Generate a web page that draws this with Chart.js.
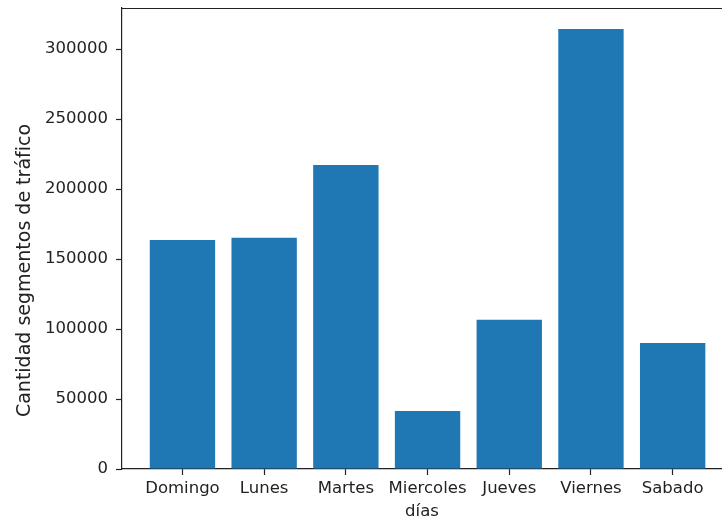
<!DOCTYPE html>
<html lang="es">
<head>
    <meta charset="UTF-8">
    <title>Cantidad segmentos de tráfico por día</title>
    <script src="https://cdn.jsdelivr.net/npm/chart.js"></script>
    <style>
        body { margin: 0; background: #fff; overflow: hidden; }
        #wrap { width: 722px; height: 523px; position: relative; }
    </style>
</head>
<body>
    <div id="wrap"><canvas id="myChart"></canvas></div>

    <script>
        // datos
        const dias = ['Domingo', 'Lunes', 'Martes', 'Miercoles', 'Jueves', 'Viernes', 'Sabado'];
        const segmentos = [163600, 165200, 217100, 41400, 106600, 314300, 90000];
        const yTicks = [0, 50000, 100000, 150000, 200000, 250000, 300000];
        const xTitle = 'días';
        const yTitle = 'Cantidad segmentos de tráfico';

        const textColor = '#222';
        const fontFamily = '"DejaVu Sans", sans-serif';

        // linea superior del marco + etiqueta del eje y (un poco desplazada, como en el original)
        const framePlugin = {
            id: 'frame',
            afterDraw(chart) {
                const { ctx, chartArea } = chart;
                ctx.save();
                ctx.strokeStyle = textColor;
                ctx.lineWidth = 1.2;
                ctx.beginPath();
                ctx.moveTo(chartArea.left, chartArea.top + 0.5);
                ctx.lineTo(chartArea.right, chartArea.top + 0.5);
                ctx.stroke();

                ctx.translate(25, (chartArea.top + chartArea.bottom) / 2 + 32);
                ctx.rotate(-Math.PI / 2);
                ctx.fillStyle = textColor;
                ctx.font = '19px ' + fontFamily;
                ctx.textAlign = 'center';
                ctx.textBaseline = 'middle';
                ctx.fillText(yTitle, 0, 0);
                ctx.restore();
            }
        };

        const ctx = document.getElementById('myChart').getContext('2d');
        new Chart(ctx, {
            type: 'bar',
            data: {
                datasets: [{
                    data: dias.map((d, i) => ({ x: i, y: segmentos[i] })),
                    backgroundColor: '#1f77b4',
                    borderWidth: 0,
                    categoryPercentage: 0.8,
                    barPercentage: 1.0
                }]
            },
            options: {
                responsive: true,
                maintainAspectRatio: false,
                devicePixelRatio: 1,
                animation: false,
                layout: { padding: { top: 8, right: 0, bottom: 0, left: 0 } },
                plugins: {
                    legend: { display: false },
                    tooltip: { enabled: false }
                },
                scales: {
                    x: {
                        type: 'linear',
                        offset: false,
                        min: -0.74,
                        max: 6.604,
                        afterBuildTicks: axis => {
                            axis.ticks = dias.map((d, i) => ({ value: i }));
                        },
                        afterFit: axis => {
                            axis.height = 54;
                            axis.paddingLeft = 0;
                            axis.paddingRight = 0;
                        },
                        grid: {
                            offset: false,
                            drawOnChartArea: false,
                            drawTicks: true,
                            tickLength: 6,
                            tickWidth: 1.2,
                            color: textColor
                        },
                        border: { display: true, color: textColor, width: 1.2 },
                        ticks: {
                            autoSkip: false,
                            maxRotation: 0,
                            padding: 4,
                            color: textColor,
                            font: { family: fontFamily, size: 16.5 },
                            callback: v => dias[v]
                        },
                        title: {
                            display: true,
                            text: xTitle,
                            color: textColor,
                            font: { family: fontFamily, size: 16.5 },
                            padding: { top: 0, bottom: 1 }
                        }
                    },
                    y: {
                        min: 0,
                        max: 329300,
                        afterBuildTicks: axis => {
                            axis.ticks = yTicks.map(v => ({ value: v }));
                        },
                        afterFit: axis => {
                            axis.width = 122;
                            axis.paddingTop = 0;
                            axis.paddingBottom = 0;
                        },
                        grid: {
                            drawOnChartArea: false,
                            drawTicks: true,
                            tickLength: 6,
                            tickWidth: 1.2,
                            color: textColor
                        },
                        border: { display: true, color: textColor, width: 1.2 },
                        ticks: {
                            padding: 8,
                            color: textColor,
                            font: { family: fontFamily, size: 16.5 },
                            callback: v => String(v)
                        }
                    }
                }
            },
            plugins: [framePlugin]
        });
    </script>
</body>
</html>
